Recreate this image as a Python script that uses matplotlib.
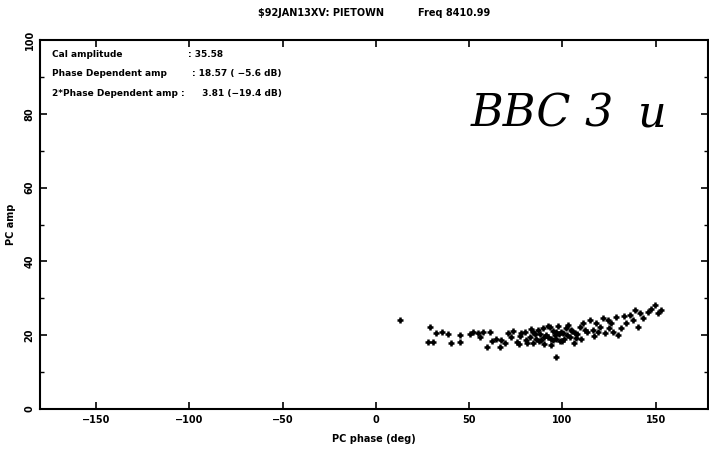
import matplotlib
matplotlib.use("Agg")
import matplotlib.pyplot as plt
from matplotlib.ticker import MultipleLocator

# ── data ─────────────────────────────────────────────────────────────────────
pc_phase = [
    12.9, 27.9, 28.9, 30.5, 35.2, 38.7, 40.5, 45.0, 45.0, 52.0,
    54.8, 57.5, 61.0, 59.3, 64.6, 67.3, 66.4, 70.9, 69.1, 72.5,
    75.4, 77.0, 79.8, 80.5, 82.5, 83.0, 84.3, 85.5, 86.9, 87.5,
    88.7, 89.5, 90.2, 91.4, 92.0, 93.2, 93.8, 95.0, 95.0, 96.0,
    96.8, 96.8, 97.5, 98.5, 99.0, 100.3, 101.0, 102.1, 103.0, 103.9,
    105.0, 106.6, 107.5, 109.3, 110.2, 111.0, 112.0, 112.9, 114.5, 116.4,
    117.0, 118.2, 119.0, 120.0, 121.5, 122.7, 124.4, 125.0, 126.2, 127.1,
    128.5, 129.8, 131.6, 133.0, 134.3, 136.0, 137.8, 139.0, 140.5, 141.4,
    143.2, 145.9, 147.5, 149.4, 151.2, 153.0, 78.0, 81.0, 84.0, 86.0,
    88.0, 90.0, 92.5, 94.0, 98.0, 100.0, 102.5, 104.5, 106.0, 108.0,
    73.5, 76.5, 62.5, 56.0, 50.5, 32.0, 96.8,
]
pc_amp = [
    24.1, 18.2, 22.3, 18.2, 20.9, 20.2, 17.8, 20.0, 18.1, 20.9,
    20.5, 20.9, 20.9, 16.7, 19.1, 18.7, 16.9, 20.5, 17.8, 19.5,
    18.2, 19.8, 20.9, 18.6, 19.6, 21.8, 17.8, 20.2, 21.4, 18.4,
    18.7, 21.9, 19.4, 20.0, 22.6, 22.3, 18.9, 18.7, 21.2, 20.0,
    20.9, 19.1, 22.4, 18.5, 21.0, 20.5, 19.0, 21.9, 22.8, 19.6,
    21.2, 20.5, 19.3, 22.3, 19.1, 23.2, 21.5, 20.9, 24.0, 21.4,
    19.8, 23.2, 21.0, 22.3, 24.6, 20.5, 24.1, 22.0, 23.2, 20.9,
    25.0, 20.0, 21.9, 25.3, 23.2, 25.5, 24.1, 26.8, 22.3, 25.9,
    24.6, 26.4, 27.2, 28.2, 25.9, 26.7, 20.6, 18.0, 20.8, 19.0,
    20.4, 17.6, 19.6, 17.4, 20.3, 18.3, 20.1, 21.4, 17.9, 20.3,
    21.2, 17.6, 18.3, 19.6, 20.3, 20.6, 14.2,
]

x_ticks = [-150, -100, -50, 0, 50, 100, 150]
y_ticks = [0, 20, 40, 60, 80, 100]

info_labels = ["Cal amplitude", "Phase Dependent amp", "2*Phase Dependent amp :"]
info_values = [": 35.58", ": 18.57 ( \u22125.6 dB)", " 3.81 (\u221219.4 dB)"]

note_parts = ["BBC", "3", "u"]

# ── figure ───────────────────────────────────────────────────────────────────
plt.rcParams.update({
    "font.family": "DejaVu Sans",
    "font.weight": "bold",
    "axes.linewidth": 1.5,
})

fig = plt.figure(figsize=(7.09, 4.54), dpi=100)
ax = fig.add_axes([40 / 709, 45 / 454, 668 / 709, 369 / 454])

ax.scatter(pc_phase, pc_amp, marker="+", s=24, color="black", linewidths=1.8)

ax.set_xlim(-180, 178)
ax.set_ylim(0, 100)
ax.set_xticks(x_ticks)
ax.set_yticks(y_ticks)
ax.set_xticklabels(["\u2212150", "\u2212100", "\u221250", "0", "50", "100", "150"],
                   fontsize=7, fontweight="bold")
ax.set_yticklabels([str(v) for v in y_ticks], fontsize=7, fontweight="bold",
                   rotation=90, va="center")
ax.yaxis.set_minor_locator(MultipleLocator(10))
ax.tick_params(which="both", direction="in", top=True, right=True)
ax.tick_params(which="major", length=5, width=1.2)
ax.tick_params(which="minor", length=3, width=1.0)
ax.tick_params(axis="x", pad=4)
ax.tick_params(axis="y", pad=4)

ax.set_xlabel("PC phase (deg)", fontsize=7, fontweight="bold", labelpad=7)
ax.set_ylabel("PC amp", fontsize=7, fontweight="bold", labelpad=6)

# header line
fig.text(258 / 709, 1 - 13 / 454, "$92JAN13XV: PIETOWN", fontsize=7,
         fontweight="bold", va="center")
fig.text(418 / 709, 1 - 13 / 454, "Freq 8410.99", fontsize=7,
         fontweight="bold", va="center")

# info block in the upper left
rows_y = [0.962, 0.908, 0.856]
for lab, yy in zip(info_labels, rows_y):
    ax.text(0.018, yy, lab, transform=ax.transAxes, fontsize=6.5,
            fontweight="bold", va="center")
for val, yy, xx in zip(info_values, rows_y, [0.222, 0.228, 0.238]):
    ax.text(xx, yy, val, transform=ax.transAxes, fontsize=6.5,
            fontweight="bold", va="center")

# handwritten note on the scan
for part, xx in zip(note_parts, [0.645, 0.815, 0.895]):
    ax.text(xx, 0.80, part, transform=ax.transAxes, fontsize=32,
            family="DejaVu Serif", style="italic", fontweight="normal",
            va="center")

fig.savefig("out.png", dpi=100)
